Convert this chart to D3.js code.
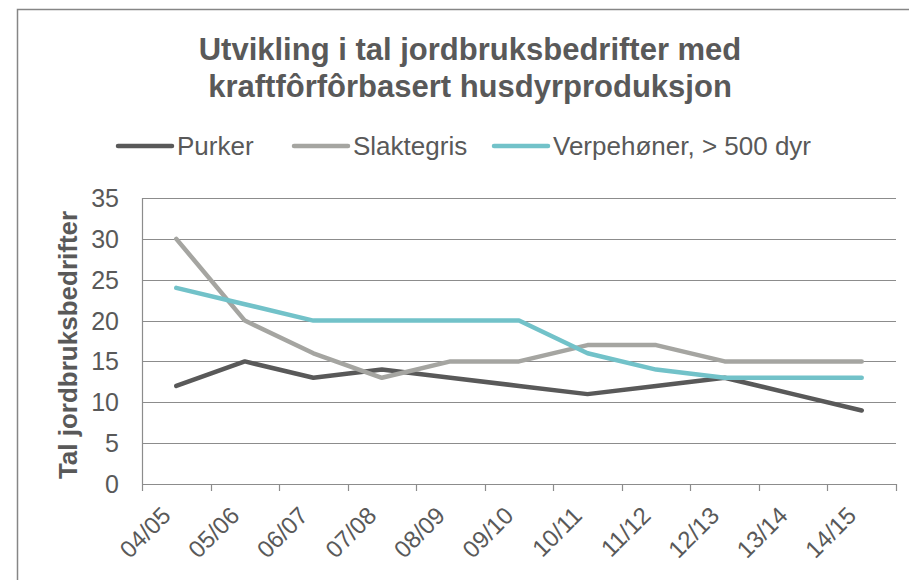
<!DOCTYPE html>
<html>
<head>
<meta charset="utf-8">
<title>Utvikling i tal jordbruksbedrifter</title>
<style>
  body { margin: 0; background: #fff; }
  svg { display: block; font-family: 'Liberation Sans', Arial, sans-serif; }
</style>
<script src="https://d3js.org/d3.v7.min.js"></script>
</head>
<body>
<div id="chart"></div>
<script>
// ******* Data *******
const years = ["04/05", "05/06", "06/07", "07/08", "08/09", "09/10", "10/11", "11/12", "12/13", "13/14", "14/15"];
const purker = [12, 15, 13, 14, 13, 12, 11, 12, 13, 11, 9];
const slaktegris = [30, 20, 16, 13, 15, 15, 17, 17, 15, 15, 15];
const verpehoner = [24, 22, 20, 20, 20, 20, 16, 14, 13, 13, 13];
const yTicks = [0, 5, 10, 15, 20, 25, 30, 35];

const series = [
  {name: "Purker", values: purker, color: "#595959"},
  {name: "Slaktegris", values: slaktegris, color: "#a5a5a1"},
  {name: "Verpehøner, > 500 dyr", values: verpehoner, color: "#72c2c9"}
];

const width = 909, height = 580;
const margin = {left: 142, right: 13, top: 198, bottom: 96};
const textColor = "#595959";

const svg = d3.select("#chart").append("svg")
    .attr("width", width)
    .attr("height", height);

// outer chart border (right and bottom edges fall outside the window)
svg.append("rect")
    .attr("x", 17.5).attr("y", 9.5)
    .attr("width", 900).attr("height", 600)
    .attr("fill", "none")
    .attr("stroke", "#868686")
    .attr("stroke-width", 1.5);

// ******* Scales *******
const x = d3.scaleBand()
    .domain(years)
    .range([margin.left, width - margin.right]);
const y = d3.scaleLinear()
    .domain([0, 35])
    .range([height - margin.bottom, margin.top]);

// gridlines
svg.append("g")
    .selectAll("line")
    .data(yTicks)
    .join("line")
    .attr("x1", margin.left).attr("x2", width - margin.right)
    .attr("y1", d => Math.round(y(d)) + 0.5)
    .attr("y2", d => Math.round(y(d)) + 0.5)
    .attr("stroke", "#8c8c8c")
    .attr("stroke-width", 1.2);

// y axis line
svg.append("line")
    .attr("x1", margin.left + 0.5).attr("x2", margin.left + 0.5)
    .attr("y1", y(35)).attr("y2", y(0))
    .attr("stroke", "#8c8c8c")
    .attr("stroke-width", 1.2);

// x tick marks at category boundaries
const bounds = years.map(d => x(d)).concat([width - margin.right]);
svg.append("g")
    .selectAll("line")
    .data(bounds)
    .join("line")
    .attr("x1", d => Math.round(d) + 0.5).attr("x2", d => Math.round(d) + 0.5)
    .attr("y1", y(0)).attr("y2", y(0) + 7)
    .attr("stroke", "#8c8c8c")
    .attr("stroke-width", 1.2);

// y tick labels
svg.append("g")
    .selectAll("text")
    .data(yTicks)
    .join("text")
    .attr("x", 119)
    .attr("y", d => y(d))
    .attr("dy", "0.36em")
    .attr("text-anchor", "end")
    .attr("font-size", 25)
    .attr("fill", textColor)
    .text(d => d);

// x tick labels, rotated
svg.append("g")
    .selectAll("text")
    .data(years)
    .join("text")
    .attr("transform", d => `translate(${x(d) + x.bandwidth() / 2 - 4},${y(0) + 33}) rotate(-45)`)
    .attr("text-anchor", "end")
    .attr("font-size", 24)
    .attr("fill", textColor)
    .text(d => d);

// y axis title
svg.append("text")
    .attr("transform", `translate(77,345) rotate(-90)`)
    .attr("text-anchor", "middle")
    .attr("font-size", 26)
    .attr("font-weight", "bold")
    .attr("fill", textColor)
    .text("Tal jordbruksbedrifter");

// ******* Lines *******
const line = d3.line()
    .x((d, i) => x(years[i]) + x.bandwidth() / 2)
    .y(d => y(d));

svg.append("g")
    .selectAll("path")
    .data(series)
    .join("path")
    .attr("d", d => line(d.values))
    .attr("fill", "none")
    .attr("stroke", d => d.color)
    .attr("stroke-width", 4.5)
    .attr("stroke-linejoin", "round")
    .attr("stroke-linecap", "round");

// ******* Title *******
const titleLines = ["Utvikling i tal jordbruksbedrifter med", "kraftfôrfôrbasert husdyrproduksjon"];
svg.append("g")
    .selectAll("text")
    .data(titleLines)
    .join("text")
    .attr("x", 470)
    .attr("y", (d, i) => 60 + i * 37)
    .attr("text-anchor", "middle")
    .attr("font-size", 31)
    .attr("font-weight", "bold")
    .attr("fill", textColor)
    .text(d => d);

// ******* Legend *******
const legendX = [118, 294, 494];
const legend = svg.append("g")
    .selectAll("g")
    .data(series)
    .join("g")
    .attr("transform", (d, i) => `translate(${legendX[i]},146)`);
legend.append("line")
    .attr("x1", 0).attr("x2", 54)
    .attr("stroke", d => d.color)
    .attr("stroke-width", 4.5)
    .attr("stroke-linecap", "round");
legend.append("text")
    .attr("x", 59)
    .attr("y", 9)
    .attr("font-size", 26)
    .attr("fill", textColor)
    .text(d => d.name);
</script>
</body>
</html>
